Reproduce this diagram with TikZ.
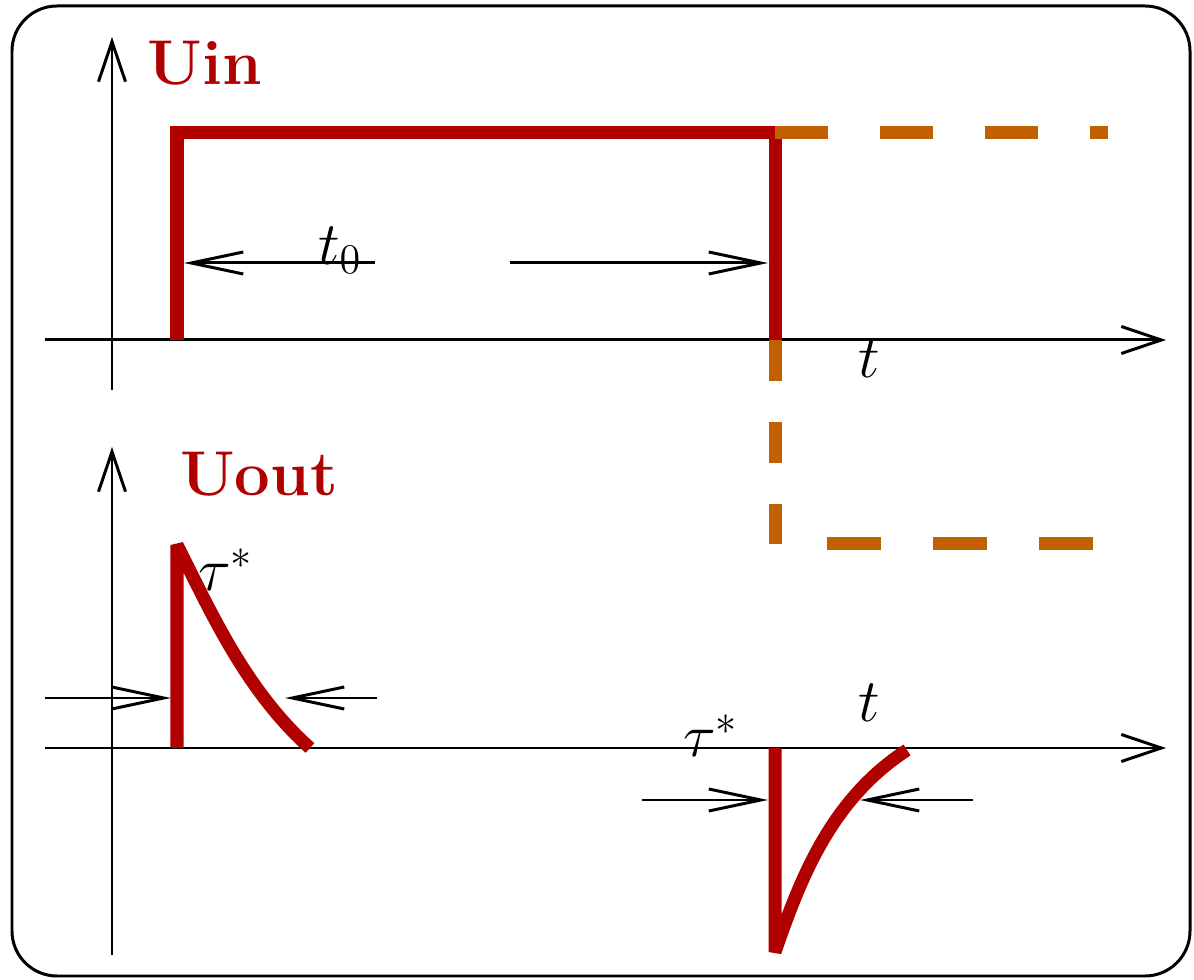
\documentclass[tikz,border=0pt]{standalone}
\usetikzlibrary{arrows.meta}

\definecolor{pulsered}{RGB}{176,0,0}
\definecolor{stepgold}{RGB}{192,96,0}

\tikzset{
  axis/.style={line width=0.85pt, -{Straight Barb[length=0.4cm,width=0.27cm]}},
  dimarrow/.style={line width=0.85pt, -{Straight Barb[length=0.52cm,width=0.22cm]}},
  signal/.style={pulsered, line width=3.7pt},
  ghost/.style={stepgold, line width=3.7pt},
  curvename/.style={pulsered, inner sep=0pt, font=\fontsize{18}{20}\selectfont\bfseries},
  sym/.style={inner sep=0pt, font=\fontsize{17}{20}\selectfont}
}

\begin{document}
\begin{tikzpicture}[x=0.01cm, y=-0.01cm]
    \useasboundingbox (0,0) rectangle (1194,980);
    \draw[line width=0.85pt, rounded corners=0.45cm] (12,6) rectangle (1190,976);

    % input pulse
    \coordinate (tyb) at (112,390);
    \coordinate (tyt) at (112,37);
    \coordinate (txl) at (45,340);
    \coordinate (txr) at (1166,340);
    \draw[axis] (tyb) -- (tyt);
    \draw[axis] (txl) -- (txr);
    \node[curvename] (uin) at (205,63) {Uin};
    \node[sym] (tin) at (869,359) {$t$};

    \coordinate (on) at (177,340);
    \coordinate (off) at (775,340);
    \draw[signal] (on) -- (177,133) -- (775,133) -- (off);
    \draw[ghost, dash pattern=on 0.53cm off 0.52cm] (775,133) -- (1108,133);
    \draw[ghost, dash pattern=on 0.41cm off 0.41cm] (off) -- (775,544);
    \draw[ghost, dash pattern=on 0.54cm off 0.52cm] (827,544) -- (1093,544);

    \node[sym] (t0) at (340,250) {$t_0$};
    \coordinate (t0a) at (375,263);
    \coordinate (t0b) at (510,263);
    \draw[dimarrow] (t0a) -- (184,263);
    \draw[dimarrow] (t0b) -- (768,263);

    % output spikes
    \coordinate (byb) at (112,955);
    \coordinate (byt) at (112,447);
    \coordinate (bxl) at (45,748);
    \coordinate (bxr) at (1166,748);
    \draw[axis] (byb) -- (byt);
    \draw[axis] (bxl) -- (bxr);
    \node[curvename] (uout) at (259,474) {Uout};
    \node[sym] (tout) at (869,703) {$t$};

    \draw[signal, line join=bevel] (177,748) -- (177,545)
        .. controls (210,610) and (245,690) .. (310,748);
    \draw[signal, line join=bevel] (775,748) -- (775,952)
        .. controls (800,880) and (830,800) .. (907,750);

    \node[sym] (tau1) at (226,570) {$\tau^*$};
    \coordinate (p1a) at (45,698);
    \coordinate (p1b) at (377,698);
    \draw[dimarrow] (p1a) -- (171,698);
    \draw[dimarrow] (p1b) -- (285,698);

    \node[sym] (tau2) at (711,736) {$\tau^*$};
    \coordinate (p2a) at (642,800);
    \coordinate (p2b) at (973,800);
    \draw[dimarrow] (p2a) -- (768,800);
    \draw[dimarrow] (p2b) -- (860,800);
\end{tikzpicture}
\end{document}
